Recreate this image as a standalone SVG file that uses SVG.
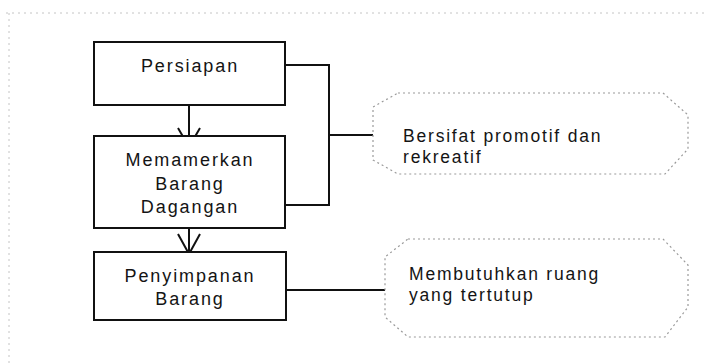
<svg xmlns="http://www.w3.org/2000/svg" width="706" height="363" viewBox="0 0 706 363">
  <style>
    .box { fill: #fff; stroke: #111; stroke-width: 2; }
    .label { font-family: "Liberation Sans", Arial, sans-serif; font-size: 18px; fill: #141414; letter-spacing: 1.9px; }
    .note { font-family: "Liberation Sans", Arial, sans-serif; font-size: 17.5px; fill: #141414; letter-spacing: 1.8px; }
    .callout { fill: #fff; stroke: #9a9a9a; stroke-width: 1.2; stroke-dasharray: 2 3; }
    .wire { fill: none; stroke: #111; stroke-width: 2; }
    .frame { fill: none; stroke: #c4c4c4; stroke-width: 1; stroke-dasharray: 2 4; }
  </style>

  <rect width="706" height="363" fill="#fff"/>

  <!-- page border -->
  <path class="frame" d="M6 13 H706 M9 13 V363"/>

  <!-- connectors -->
  <g id="connectors">
    <path class="wire" d="M285 65 H329 V205 H285"/>
    <path class="wire" d="M329 135 H376"/>
    <path class="wire" d="M286 290 H385"/>
    <path class="wire" d="M189 105 V147 M178 128 L189 147 L200 128"/>
    <path class="wire" d="M189 228 V254 M178 234 L189 254 L200 234"/>
  </g>

  <g id="persiapan">
    <rect class="box" x="94" y="42" width="191" height="63"/>
    <text class="label" x="190" y="72" text-anchor="middle">Persiapan</text>
  </g>

  <g id="memamerkan">
    <rect class="box" x="94" y="136" width="191" height="92"/>
    <text class="label" x="190" y="166" text-anchor="middle">Memamerkan</text>
    <text class="label" x="190" y="190" text-anchor="middle">Barang</text>
    <text class="label" x="190" y="213" text-anchor="middle">Dagangan</text>
  </g>

  <g id="penyimpanan">
    <rect class="box" x="94" y="252" width="192" height="68"/>
    <text class="label" x="190" y="282" text-anchor="middle">Penyimpanan</text>
    <text class="label" x="190" y="305" text-anchor="middle">Barang</text>
  </g>

  <g id="note-promotif">
    <path class="callout" d="M398 93 H663 L688 115 V149 L665 174 H398 L373 160 V107 Z"/>
    <text class="note" x="403" y="142">Bersifat promotif dan</text>
    <text class="note" x="403" y="163">rekreatif</text>
  </g>

  <g id="note-tertutup">
    <path class="callout" d="M408 239 H663 L688 265 V307 L665 337 H408 L385 317 V257 Z"/>
    <text class="note" x="409" y="280">Membutuhkan ruang</text>
    <text class="note" x="409" y="301">yang tertutup</text>
  </g>
</svg>
